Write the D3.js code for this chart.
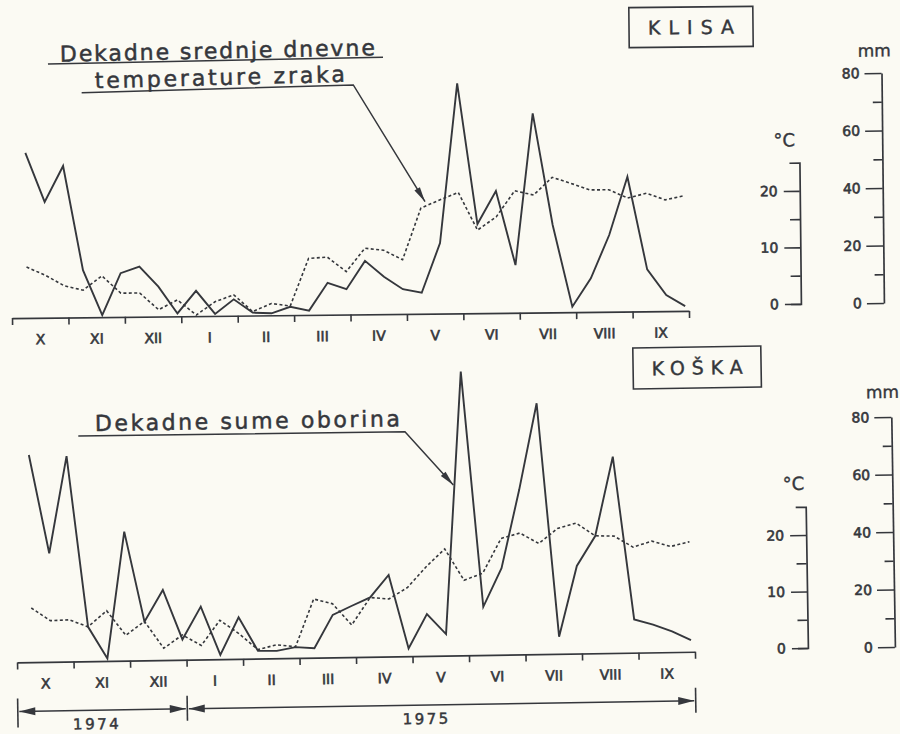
<!DOCTYPE html>
<html>
<head>
<meta charset="utf-8">
<script src="https://cdn.jsdelivr.net/npm/d3@7"></script>
<style>
  body { margin: 0; background: #fbfaf3; }
  svg { display: block; }
</style>
</head>
<body>
<div id="chart"></div>
<script>
/* Data
============================================= */
const MONTHS = ["X", "XI", "XII", "I", "II", "III", "IV", "V", "VI", "VII", "VIII", "IX"];

// decade sums of precipitation (mm), Oct 1974 - Sep 1975
const klisaRain = [57.4, 40.3, 52.7, 16.4, 0.7, 15.2, 17.4, 10.4, 1.0, 8.8, 0.7, 5.7,
                   1.0, 0.7, 2.9, 1.5, 11.1, 8.8, 18.6, 13.0, 8.6, 7.3, 24.5, 80.0,
                   31.0, 42.4, 16.6, 69.3, 30.4, 1.9, 11.7, 26.7, 46.9, 14.6, 5.6, 1.7];
// decade mean daily air temperature (°C)
const klisaTemp = [9.0, 7.5, 5.6, 4.8, 7.3, 4.2, 4.2, 1.2, 2.9, 0.2, 2.5, 3.7,
                   0.7, 2.1, 1.6, 10.0, 10.2, 7.6, 11.7, 11.3, 9.6, 18.7, 20.1, 21.4,
                   14.7, 17.0, 21.6, 20.8, 23.9, 22.8, 21.6, 21.6, 20.1, 20.9, 19.7, 20.4];

const koskaRain = [72.1, 37.8, 71.5, 12.0, 0.9, 44.9, 13.5, 24.4, 7.1, 18.4, 1.5, 14.5,
                   2.7, 2.6, 3.8, 3.3, 14.8, 17.8, 20.7, 28.4, 2.7, 14.6, 7.5, 98.7,
                   16.8, 30.1, 57.2, 87.3, 6.0, 30.5, 40.8, 68.3, 11.6, 9.7, 7.2, 4.1];
const koskaTemp = [9.6, 7.3, 7.4, 6.1, 8.9, 4.5, 6.9, 2.1, 4.4, 2.5, 6.9, 4.5,
                   1.6, 2.4, 2.0, 10.4, 9.5, 5.7, 10.5, 10.2, 12.2, 15.8, 18.9, 13.3,
                   14.5, 20.6, 21.5, 19.6, 22.2, 23.1, 20.8, 20.7, 18.7, 19.7, 18.7, 19.5];

const TEMP_TICKS = [0, 10, 20];
const TEMP_MINOR = [5, 15];
const RAIN_TICKS = [0, 20, 40, 60, 80];
const RAIN_MINOR = [10, 30, 50, 70];

const YEARS = [
    { label: "1974", from: 0, to: 9, at: 4.2 },
    { label: "1975", from: 9, to: 36, at: 21.7 }
];

/* Layout
============================================= */
const SVG_WIDTH = 900;
const SVG_HEIGHT = 734;
const MM_PX = 2.875;     // px per mm
const DEG_PX = 5.65;     // px per °C
const INK = "#35373c";
const FONT = "'DejaVu Sans', sans-serif";

const PANELS = [
    {
        station: "KLISA", rain: klisaRain, temp: klisaTemp,
        x0: 12, x1: 689, base: 314.5, cx: 350, tilt: -0.6,
        tempAxisX: 801, tempZero: 308.6, rainAxisX: 884, rainZero: 308.6,
        degLabel: [786, 151], mmLabel: [877, 62],
        box: { cx: 694, cy: 30.6, w: 124, h: 40, len: 86 },
        notes: [
            { text: "Dekadne srednje dnevne", x: 62.7, y: 58.7, len: 315, rot: -0.6 },
            { text: "temperature zraka", x: 97.4, y: 85.6, len: 250, rot: -0.9 }
        ],
        rules: [[[50.6, 60.8], [385.7, 57.6]]],
        leader: [[84, 89.9], [355.7, 85], [426.2, 202.5]],
        years: false
    },
    {
        station: "KOŠKA", rain: koskaRain, temp: koskaTemp,
        x0: 17, x1: 695, base: 657.2, cx: 350, tilt: -0.9,
        tempAxisX: 808, tempZero: 655.2, rainAxisX: 895, rainZero: 655.5,
        degLabel: [796, 497], mmLabel: [886.5, 406.5],
        box: { cx: 701.6, cy: 373, w: 128, h: 41, len: 91 },
        notes: [
            { text: "Dekadne sume oborina", x: 98.6, y: 427, len: 305, rot: 0 }
        ],
        rules: [],
        leader: [[81.8, 431.7], [408.5, 432.6], [456, 486.6]],
        years: true
    }
];

var svg = d3.select("#chart")
    .append("svg")
    .attr("width", SVG_WIDTH)
    .attr("height", SVG_HEIGHT);

svg.append("rect")
    .attr("width", SVG_WIDTH)
    .attr("height", SVG_HEIGHT)
    .attr("fill", "#fbfaf3");

PANELS.forEach(drawPanel);

/* Functions
============================================= */
function styleAxis(sel) {
    sel.attr("font-family", FONT);
    sel.select(".domain").attr("stroke", INK).attr("stroke-width", 1.7);
    sel.selectAll(".tick line").attr("stroke", INK).attr("stroke-width", 1.6);
    sel.selectAll(".tick text")
        .attr("font-size", 14)
        .attr("fill", INK)
        .attr("stroke", INK)
        .attr("stroke-width", 0.6);
}

function arrowHead(g, tip, from, len, half) {
    var dx = tip[0] - from[0], dy = tip[1] - from[1];
    var d = Math.sqrt(dx * dx + dy * dy);
    var ux = dx / d, uy = dy / d;
    var bx = tip[0] - ux * len, by = tip[1] - uy * len;
    g.append("path")
        .attr("d", `M${tip[0]},${tip[1]}L${bx - uy * half},${by + ux * half}L${bx + uy * half},${by - ux * half}Z`)
        .attr("fill", INK);
}

function drawPanel(p) {
    var g = svg.append("g")
        .attr("transform", `rotate(${p.tilt}, ${p.cx}, ${p.base})`);

    var x = d3.scaleLinear().domain([0, 36]).range([p.x0, p.x1]);
    var yRain = d3.scaleLinear().domain([0, 80]).range([p.base, p.base - 80 * MM_PX]);
    var yTemp = d3.scaleLinear().domain([0, 40]).range([p.base, p.base - 40 * DEG_PX]);

    // month axis
    g.append("g")
        .attr("transform", `translate(0, ${p.base})`)
        .call(d3.axisBottom(x).tickValues(d3.range(0, 37, 3)).tickFormat("").tickSize(7).tickSizeOuter(0))
        .call(styleAxis);

    g.selectAll(".month")
        .data(MONTHS)
        .enter()
        .append("text")
        .attr("x", (d, i) => x(i * 3 + 1.5))
        .attr("y", p.base + 26.5)
        .attr("text-anchor", "middle")
        .attr("font-family", FONT)
        .attr("font-size", 14)
        .attr("fill", INK)
        .attr("stroke", INK)
        .attr("stroke-width", 0.6)
        .text(d => d);

    // temperature (dotted) and precipitation (solid)
    g.append("path")
        .datum(p.temp)
        .attr("d", d3.line().x((d, i) => x(i + 0.8)).y(d => yTemp(d)))
        .attr("fill", "none")
        .attr("stroke", INK)
        .attr("stroke-width", 1.6)
        .attr("stroke-dasharray", "3,2.4");

    g.append("path")
        .datum(p.rain)
        .attr("d", d3.line().x((d, i) => x(i + 0.8)).y(d => yRain(d)))
        .attr("fill", "none")
        .attr("stroke", INK)
        .attr("stroke-width", 1.9);

    // °C scale bar
    var tScale = d3.scaleLinear().domain([0, 25]).range([p.tempZero, p.tempZero - 25 * DEG_PX]);
    g.append("g")
        .attr("transform", `translate(${p.tempAxisX}, 0)`)
        .call(d3.axisLeft(tScale).tickValues(TEMP_TICKS).tickSize(16).tickSizeOuter(10).tickPadding(6))
        .call(styleAxis);
    g.append("g")
        .attr("transform", `translate(${p.tempAxisX}, 0)`)
        .call(d3.axisLeft(tScale).tickValues(TEMP_MINOR).tickSize(10).tickFormat(""))
        .call(s => s.select(".domain").remove())
        .call(styleAxis);

    // mm scale bar
    var rScale = d3.scaleLinear().domain([0, 80]).range([p.rainZero, p.rainZero - 80 * MM_PX]);
    g.append("g")
        .attr("transform", `translate(${p.rainAxisX}, 0)`)
        .call(d3.axisLeft(rScale).tickValues(RAIN_TICKS).tickSize(17).tickSizeOuter(0).tickPadding(5))
        .call(styleAxis);
    g.append("g")
        .attr("transform", `translate(${p.rainAxisX}, 0)`)
        .call(d3.axisLeft(rScale).tickValues(RAIN_MINOR).tickSize(9).tickFormat(""))
        .call(s => s.select(".domain").remove())
        .call(styleAxis);

    g.append("text")
        .attr("x", p.degLabel[0]).attr("y", p.degLabel[1])
        .attr("text-anchor", "middle")
        .attr("font-family", FONT).attr("font-size", 18)
        .attr("fill", INK).attr("stroke", INK).attr("stroke-width", 0.4)
        .text("°C");

    g.append("text")
        .attr("x", p.mmLabel[0]).attr("y", p.mmLabel[1])
        .attr("text-anchor", "middle")
        .attr("font-family", FONT).attr("font-size", 17)
        .attr("fill", INK).attr("stroke", INK).attr("stroke-width", 0.4)
        .text("mm");

    // station box
    g.append("rect")
        .attr("x", p.box.cx - p.box.w / 2)
        .attr("y", p.box.cy - p.box.h / 2)
        .attr("width", p.box.w)
        .attr("height", p.box.h)
        .attr("fill", "none")
        .attr("stroke", INK)
        .attr("stroke-width", 1.6);

    g.append("text")
        .attr("x", p.box.cx).attr("y", p.box.cy + 7)
        .attr("text-anchor", "middle")
        .attr("font-family", FONT).attr("font-size", 19)
        .attr("textLength", p.box.len)
        .attr("lengthAdjust", "spacing")
        .attr("fill", INK).attr("stroke", INK).attr("stroke-width", 0.4)
        .text(p.station);

    // hand-lettered annotation with leader arrow
    p.notes.forEach(function(n) {
        g.append("text")
            .attr("x", n.x).attr("y", n.y)
            .attr("transform", `rotate(${n.rot}, ${n.x}, ${n.y})`)
            .attr("font-family", FONT).attr("font-size", 22)
            .attr("textLength", n.len)
            .attr("lengthAdjust", "spacing")
            .attr("fill", INK).attr("stroke", INK).attr("stroke-width", 0.5)
            .text(n.text);
    });

    p.rules.forEach(function(r) {
        g.append("path")
            .attr("d", d3.line()(r))
            .attr("fill", "none")
            .attr("stroke", INK)
            .attr("stroke-width", 1.5);
    });

    g.append("path")
        .attr("d", d3.line()(p.leader))
        .attr("fill", "none")
        .attr("stroke", INK)
        .attr("stroke-width", 1.5);
    var n = p.leader.length;
    arrowHead(g, p.leader[n - 1], p.leader[n - 2], 15, 3.2);

    if (!p.years) return;

    // year brackets
    var yy = p.base + 49;
    [0, 9, 36].forEach(function(v) {
        g.append("line")
            .attr("x1", x(v)).attr("x2", x(v))
            .attr("y1", yy - 13).attr("y2", yy + (v === 0 ? 16 : 12))
            .attr("stroke", INK).attr("stroke-width", 1.6);
    });

    YEARS.forEach(function(yr) {
        var a = x(yr.from) + 1.5, b = x(yr.to) - 1.5;
        g.append("line")
            .attr("x1", a).attr("x2", b)
            .attr("y1", yy).attr("y2", yy)
            .attr("stroke", INK).attr("stroke-width", 1.5);
        arrowHead(g, [a, yy], [b, yy], 16, 4);
        arrowHead(g, [b, yy], [a, yy], 16, 4);

        g.append("text")
            .attr("x", x(yr.at)).attr("y", p.base + 68)
            .attr("text-anchor", "middle")
            .attr("font-family", FONT).attr("font-size", 15)
            .attr("letter-spacing", 2.5)
            .attr("fill", INK).attr("stroke", INK).attr("stroke-width", 0.5)
            .text(yr.label);
    });
}
</script>
</body>
</html>
